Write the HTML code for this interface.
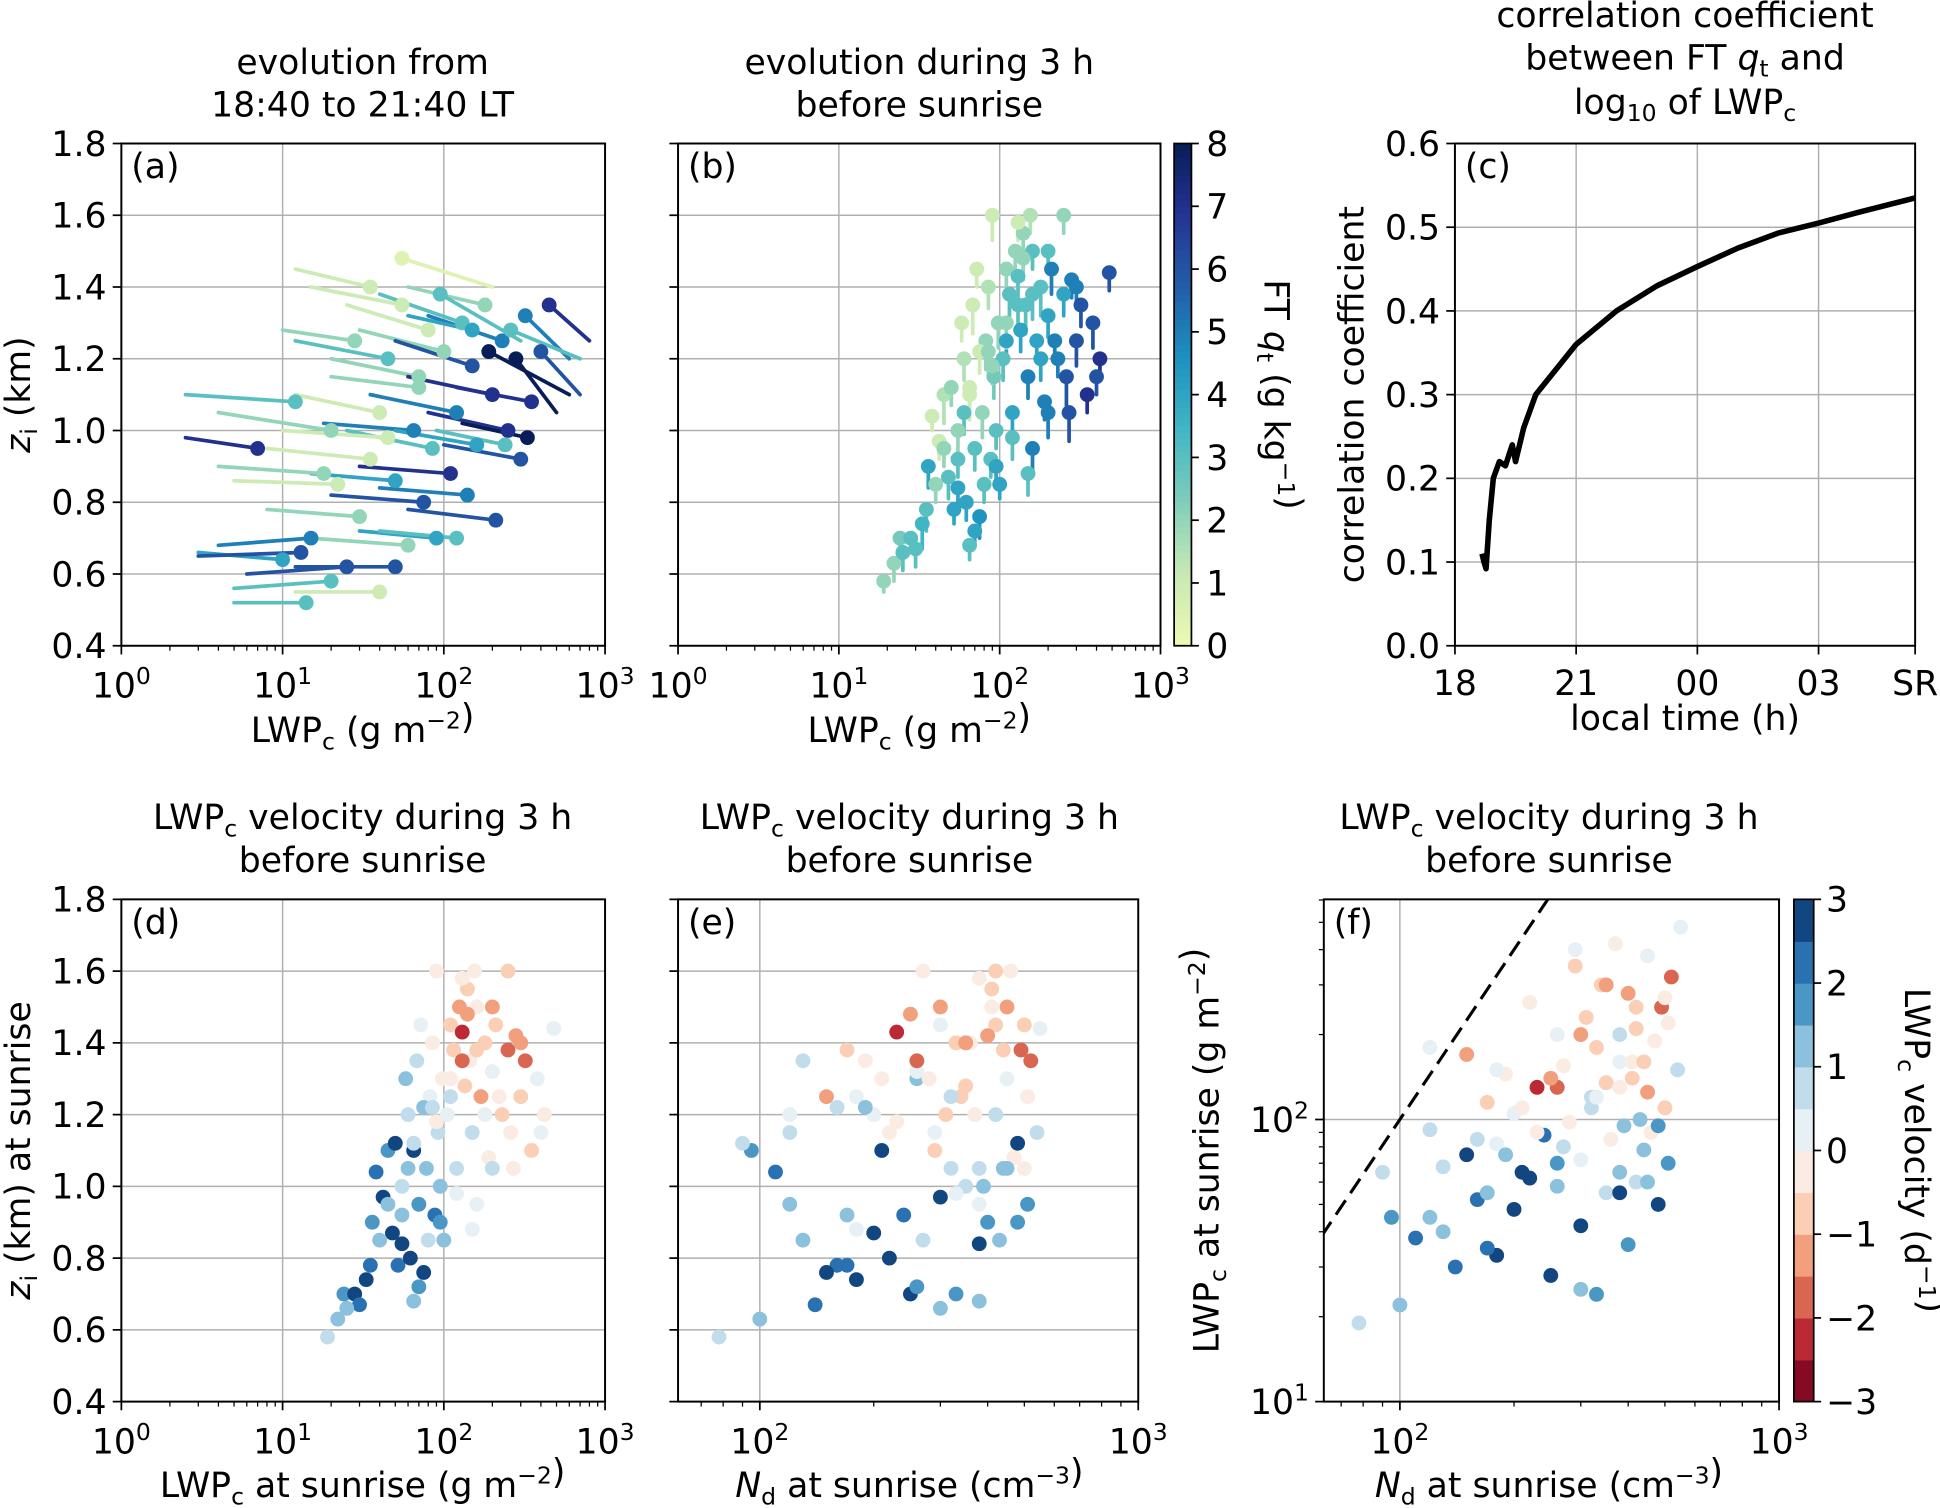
<!DOCTYPE html>
<html><head><meta charset="utf-8"><style>
html,body{margin:0;padding:0;background:#fff;}
svg{display:block;font-family:"DejaVu Sans","Liberation Sans",sans-serif;}
</style></head><body>
<svg id="fig" width="1940" height="1508" viewBox="0 0 1568 1219" xmlns="http://www.w3.org/2000/svg"></svg>
<script>
// ---------- Panel (a) data: tracks 18:40 -> 21:40 ----------
const aLwp  =[7,12,14,10,15,20,25,30,28,35,40,40,45,50,55,60,65,70,75,80,85,90,100,110,120,130,140,150,160,180,200,210,230,250,280,300,320,350,400,450,20,35,18,55,95,120,190,260,50,330,13,22,45,70,150,240];
const aZi   =[0.95,1.08,0.52,0.64,0.70,0.58,0.62,0.76,1.25,0.92,1.05,0.55,1.20,0.86,1.35,0.68,1.00,1.15,0.80,1.28,0.95,0.70,1.22,0.88,1.05,1.30,0.82,1.18,0.96,1.35,1.10,0.75,1.25,1.00,1.20,0.92,1.32,1.08,1.22,1.35,1.00,1.40,0.88,1.48,1.38,0.70,1.22,1.28,0.62,0.98,0.66,0.85,0.98,1.12,1.28,0.96];
const aLwp0 =[2.5,2.5,5,3,4,5,6,8,10,8,12,12,12,15,15,15,18,20,20,25,25,30,30,30,35,40,40,50,50,60,60,60,80,80,500,100,600,120,700,800,4,12,4,200,300,40,600,700,12,130,3,5,10,20,60,90];
const aZi0  =[0.98,1.10,0.52,0.66,0.68,0.56,0.60,0.78,1.28,0.95,1.10,0.55,1.25,0.88,1.40,0.70,1.02,1.20,0.82,1.35,1.00,0.72,1.28,0.90,1.10,1.38,0.84,1.25,1.00,1.40,1.15,0.78,1.32,1.05,1.05,0.96,1.20,1.12,1.10,1.25,1.05,1.45,0.90,1.40,1.25,0.72,1.10,1.20,0.62,1.02,0.65,0.86,1.00,1.15,1.32,1.00];
const aQt   =[7,3,3,4,5,3,6,2,2,1,1,1,3,4,1,2,5,2,6,1,3,4,2,7,5,3,5,6,4,2,7,6,5,7,8,6,5,7,6,7,2,1,2,0.5,3,3,8,3,6,8,6,1,1,2,4,3];

// ---------- Sunrise data (panels b, d, e, f) ----------
const sLwp=[19,22,24,28,30,33,36,38,42,45,48,50,52,55,58,60,62,65,68,70,72,75,78,80,82,85,88,90,92,95,98,100,105,110,115,120,125,130,135,140,145,150,155,160,170,180,190,200,210,230,250,260,280,300,320,350,380,420,480,150,40,65,110,55,130,200,90,75,270,160,25,35,45,55,65,70,85,95,110,120,140,160,180,200,220,300,400,250,60,130];
const sZi =[0.58,0.63,0.70,0.70,0.67,0.74,0.90,1.04,0.97,1.10,0.87,1.12,0.78,1.00,1.30,1.20,0.80,0.68,1.35,0.95,1.45,0.76,1.05,0.85,1.25,1.40,0.92,1.60,1.15,1.00,1.30,0.85,1.20,1.45,1.38,1.05,1.50,1.43,1.28,1.55,1.35,1.15,1.60,0.95,1.25,1.40,1.08,1.32,1.45,1.20,1.38,1.15,1.42,1.25,1.35,1.10,1.30,1.20,1.44,0.88,0.85,1.10,1.25,0.92,1.35,1.05,1.18,1.22,1.05,1.50,0.66,0.78,0.95,0.84,1.12,0.72,1.22,0.90,1.30,0.98,1.48,1.38,1.20,1.50,1.25,1.40,1.15,1.60,1.05,1.58];
const sNd =[78,100,330,250,140,180,400,110,300,95,200,480,160,350,260,420,220,380,130,510,300,150,440,270,180,360,240,460,120,390,280,430,200,500,170,320,450,230,350,410,190,540,270,380,150,330,470,260,420,310,490,220,400,340,520,290,450,370,550,180,130,210,320,170,260,380,230,190,500,410,300,170,120,380,90,260,160,480,210,330,250,440,120,300,510,350,290,420,450,380];
const sVel=[0.5,1.0,1.5,2.5,2.0,2.8,1.5,2.0,2.5,1.8,3.0,2.5,2.0,0.5,1.0,0.8,2.5,1.2,0.5,1.5,0.3,3.0,1.0,0.5,0.2,-0.3,2.0,-0.5,0.6,1.0,-0.2,1.2,0.4,-1.0,-0.8,0.8,-1.5,-2.5,-1.0,-0.6,-0.4,0.5,-0.3,0.3,-1.2,-0.9,-0.5,0.2,-1.0,-0.7,-2.0,-0.4,-1.2,-0.6,-1.8,-0.8,0.3,-0.5,0.4,0.2,1.2,2.6,0.7,1.4,-1.6,0.9,-0.2,1.1,-0.3,-0.4,1.2,2.2,1.0,2.6,0.6,1.6,0.8,1.8,-0.4,0.4,-1.2,-0.8,0.2,-1.5,-0.3,-1.4,0.4,-0.6,1.4,-0.5];
const sQt =[2,2,2.5,3,3,3.5,4,1,1,1.5,3,2,4,2,1,1.5,4,3,1,3,1,4.5,2,3,2,1.5,3,1,2.5,3,2,4,3,2,3,4,2,3,4,2,3,5,1.5,5,4,3,5,4,5,5,4,6,5,6,6,7,6,7,6,3,2,1,4,3,3,5,2,1,6,3,3,3,2,4,1,4,2,4,2,3,2,3,4,3,5,5,6,2,3,1];
const sDzi=[0.03,0.05,0.06,0.04,0.05,0.07,0.06,0.04,0.05,0.08,0.06,0.05,0.04,0.07,0.05,0.06,0.05,0.04,0.08,0.06,0.05,0.06,0.07,0.05,0.08,0.06,0.05,0.07,0.06,0.05,0.07,0.04,0.06,0.05,0.08,0.06,0.05,0.07,0.06,0.05,0.08,0.06,0.05,0.07,0.06,0.08,0.05,0.06,0.07,0.05,0.06,0.08,0.05,0.07,0.06,0.05,0.07,0.06,0.05,0.06,0.05,0.07,0.06,0.05,0.06,0.07,0.05,0.06,0.08,0.05,0.05,0.06,0.05,0.05,0.06,0.04,0.06,0.05,0.07,0.06,0.06,0.07,0.06,0.05,0.06,0.06,0.05,0.05,0.06,0.05];

// ---------- Panel (c) data ----------
const cTime=[0.67,0.72,0.77,0.85,0.95,1.1,1.25,1.35,1.42,1.5,1.7,2.0,2.5,3,4,5,6,7,8,9,10,11.39];
const cCorr=[0.11,0.10,0.092,0.15,0.20,0.22,0.215,0.23,0.24,0.22,0.26,0.30,0.33,0.36,0.40,0.43,0.453,0.475,0.493,0.505,0.518,0.535];
const cTickPos=[0,3,6,9,11.39];
const cTickLab=['18','21','00','03','SR'];
// dashed line in (f)
const fLineNd=[40,300];
const fLineExp=[2];

const NS='http://www.w3.org/2000/svg';
const svg=document.getElementById('fig');
const FS=28;
function mk(tag,attrs,parent){const e=document.createElementNS(NS,tag);for(const k in attrs)e.setAttribute(k,attrs[k]);(parent||svg).appendChild(e);return e;}
function logS(d0,d1,p0,p1){return v=>p0+(Math.log10(v)-Math.log10(d0))/(Math.log10(d1)-Math.log10(d0))*(p1-p0);}
function linS(d0,d1,p0,p1){return v=>p0+(v-d0)/(d1-d0)*(p1-p0);}
function txt(x,y,html,anchor,size,rot,parent){const t=mk('text',{x:x,y:y,'text-anchor':anchor||'middle','font-size':size||FS,fill:'#000'},parent);if(rot)t.setAttribute('transform','rotate('+rot+' '+x+' '+y+')');t.innerHTML=html;return t;}
const SUB=s=>'<tspan dy="6" font-size="19">'+s+'</tspan><tspan dy="-6"> </tspan>';
const SUBE=s=>'<tspan dy="6" font-size="19">'+s+'</tspan><tspan dy="-6"></tspan>';
const SUP=s=>'<tspan dy="-11" font-size="19">'+s+'</tspan><tspan dy="11"></tspan>';
function hex(h){return [parseInt(h.slice(1,3),16),parseInt(h.slice(3,5),16),parseInt(h.slice(5,7),16)];}
function interp(stops,t){t=Math.max(0,Math.min(1,t));const n=stops.length-1;const i=Math.min(n-1,Math.floor(t*n));const f=t*n-i;const a=hex(stops[i]),b=hex(stops[i+1]);return 'rgb('+a.map((v,k)=>Math.round(v+(b[k]-v)*f)).join(',')+')';}
const YGB=['#ffffd9','#edf8b1','#c7e9b4','#7fcdbb','#41b6c4','#1d91c0','#225ea8','#253494','#081d58'];
const RDBU=['#67001f','#b2182b','#d6604d','#f4a582','#fddbc7','#f7f7f7','#d1e5f0','#92c5de','#4393c3','#2166ac','#053061'];
const qtCol=q=>interp(YGB,0.12+0.88*q/8);
function velCol(v){const b=Math.max(0,Math.min(11,Math.floor((v+3)/0.5)));return interp(RDBU,(b+0.5)/12);}

function axes(name){
  const g=mk('g',{});
  
  
  return g;
}
function frame(g,X0,X1,Y0,Y1){mk('rect',{x:X0,y:Y0,width:X1-X0,height:Y1-Y0,fill:'none',stroke:'#000','stroke-width':1.6},g);}
function xLogTicks(g,xs,d0,d1,Y1,labels,grid,Y0){
  for(let e=Math.floor(Math.log10(d0));e<=Math.ceil(Math.log10(d1));e++){
    for(let m=1;m<10;m++){const v=m*Math.pow(10,e);if(v<d0*0.999||v>d1*1.001)continue;const x=xs(v);
      if(m===1){if(grid&&v>d0*1.01&&v<d1*0.99)mk('line',{x1:x,x2:x,y1:Y0,y2:Y1,stroke:'#b0b0b0','stroke-width':1.2},g);
        mk('line',{x1:x,x2:x,y1:Y1,y2:Y1+7,stroke:'#000','stroke-width':1.4},g);
        if(labels){const t=txt(x,Y1+42,'10'+SUP(e),'middle',FS,0,g);}}
      else mk('line',{x1:x,x2:x,y1:Y1,y2:Y1+4,stroke:'#000','stroke-width':1},g);}
  }
}
function yLinTicks(g,ys,vals,X0,X1,labels){
  vals.forEach(v=>{const y=ys(v);if(v>vals[0]&&v<vals[vals.length-1])mk('line',{x1:X0,x2:X1,y1:y,y2:y,stroke:'#b0b0b0','stroke-width':1.2},g);
    mk('line',{x1:X0-7,x2:X0,y1:y,y2:y,stroke:'#000','stroke-width':1.4},g);
    if(labels){const t=txt(X0-12,y+10,v.toFixed(1),'end',FS,0,g);}});
}
const ziTicks=[0.4,0.6,0.8,1.0,1.2,1.4,1.6,1.8];

// ===== Panel a =====
(function(){
  const X0=98,X1=489,Y0=116,Y1=522;
  const g=axes('panel-a');
  const xs=logS(1,1000,X0,X1), ys=linS(0.4,1.8,Y1,Y0);
  yLinTicks(g,ys,ziTicks,X0,X1,true);
  xLogTicks(g,xs,1,1000,Y1,true,true,Y0);
  aLwp.forEach((v,i)=>{
    const l=mk('line',{x1:xs(aLwp0[i]),y1:ys(aZi0[i]),x2:xs(v),y2:ys(aZi[i]),stroke:qtCol(aQt[i]),'stroke-width':3,'stroke-linecap':'round'},g);
    
    
  });
  aLwp.forEach((v,i)=>{
    const c=mk('circle',{cx:xs(v),cy:ys(aZi[i]),r:6,fill:qtCol(aQt[i])},g);
    
    
  });
  frame(g,X0,X1,Y0,Y1);
  txt(X0+8,Y0+28,'(a)','start',FS,0,g);
  txt(293,60,'evolution from','middle',FS,0,g);
  txt(293,94,'18:40 to 21:40 LT','middle',FS,0,g);
  txt(293,600,'LWP'+SUB('c')+'(g m'+SUP('−2')+')','middle',FS,0,g);
  txt(24,319,'<tspan font-style="italic">z</tspan>'+SUB('i')+'(km)','middle',FS,-90,g);
})();

// ===== Panel b =====
(function(){
  const X0=548,X1=938,Y0=116,Y1=522;
  const g=axes('panel-b');
  const xs=logS(1,1000,X0,X1), ys=linS(0.4,1.8,Y1,Y0);
  yLinTicks(g,ys,ziTicks,X0,X1,false);
  xLogTicks(g,xs,1,1000,Y1,true,true,Y0);
  sLwp.forEach((v,i)=>{
    const l=mk('line',{x1:xs(v),y1:ys(sZi[i]-sDzi[i]),x2:xs(v),y2:ys(sZi[i]),stroke:qtCol(sQt[i]),'stroke-width':3,'stroke-linecap':'round'},g);
    
    
  });
  sLwp.forEach((v,i)=>{
    const c=mk('circle',{cx:xs(v),cy:ys(sZi[i]),r:6,fill:qtCol(sQt[i])},g);
    
    
  });
  frame(g,X0,X1,Y0,Y1);
  txt(X0+8,Y0+28,'(b)','start',FS,0,g);
  txt(743,60,'evolution during 3 h','middle',FS,0,g);
  txt(743,94,'before sunrise','middle',FS,0,g);
  txt(743,600,'LWP'+SUB('c')+'(g m'+SUP('−2')+')','middle',FS,0,g);
  const cb=mk('g',{});
  
  
  const cX=949,cW=14,cs=linS(0,8,Y1,Y0);
  for(let k=0;k<80;k++){const q=k/10;mk('rect',{x:cX,y:cs(q+0.1),width:cW,height:(Y1-Y0)/80+0.6,fill:qtCol(q+0.05)},cb);}
  mk('rect',{x:cX,y:Y0,width:cW,height:Y1-Y0,fill:'none',stroke:'#000','stroke-width':1.4},cb);
  for(let q=0;q<=8;q++){const y=cs(q);mk('line',{x1:cX+cW,x2:cX+cW+6,y1:y,y2:y,stroke:'#000','stroke-width':1.4},cb);txt(cX+cW+12,y+10,String(q),'start',FS,0,cb);}
  txt(1022,319,'FT <tspan font-style="italic">q</tspan>'+SUB('t')+'(g kg'+SUP('−1')+')','middle',FS,90,cb);
})();

// ===== Panel c =====
(function(){
  const X0=1176,X1=1548,Y0=116,Y1=522;
  const g=axes('panel-c');
  const xs=linS(0,11.39,X0,X1), ys=linS(0,0.6,Y1,Y0);
  yLinTicks(g,ys,[0,0.1,0.2,0.3,0.4,0.5,0.6],X0,X1,true);
  cTickPos.forEach((t,i)=>{const x=xs(t);if(i>0&&i<cTickPos.length-1)mk('line',{x1:x,x2:x,y1:Y0,y2:Y1,stroke:'#b0b0b0','stroke-width':1.2},g);
    mk('line',{x1:x,x2:x,y1:Y1,y2:Y1+7,stroke:'#000','stroke-width':1.4},g);txt(x,Y1+40,cTickLab[i],'middle',FS,0,g);});
  const p=mk('polyline',{points:cTime.map((t,i)=>xs(t)+','+ys(cCorr[i])).join(' '),fill:'none',stroke:'#000','stroke-width':4.5,'stroke-linejoin':'round'},g);
  
  
  frame(g,X0,X1,Y0,Y1);
  txt(X0+8,Y0+28,'(c)','start',FS,0,g);
  txt(1362,22,'correlation coefficient','middle',FS,0,g);
  txt(1362,56,'between FT <tspan font-style="italic">q</tspan>'+SUB('t')+'and','middle',FS,0,g);
  txt(1362,92,'log'+SUB('10')+'of LWP'+SUBE('c'),'middle',FS,0,g);
  txt(1362,590,'local time (h)','middle',FS,0,g);
  txt(1102,319,'correlation coefficient','middle',FS,-90,g);
})();

// ===== Panel d =====
(function(){
  const X0=98,X1=489,Y0=727,Y1=1133;
  const g=axes('panel-d');
  const xs=logS(1,1000,X0,X1), ys=linS(0.4,1.8,Y1,Y0);
  yLinTicks(g,ys,ziTicks,X0,X1,true);
  xLogTicks(g,xs,1,1000,Y1,true,true,Y0);
  sLwp.forEach((v,i)=>{const c=mk('circle',{cx:xs(v),cy:ys(sZi[i]),r:6,fill:velCol(sVel[i])},g);
    
    });
  frame(g,X0,X1,Y0,Y1);
  txt(X0+8,Y0+28,'(d)','start',FS,0,g);
  txt(293,670,'LWP'+SUB('c')+'velocity during 3 h','middle',FS,0,g);
  txt(293,705,'before sunrise','middle',FS,0,g);
  txt(293,1210,'LWP'+SUB('c')+'at sunrise (g m'+SUP('−2')+')','middle',FS,0,g);
  txt(24,930,'<tspan font-style="italic">z</tspan>'+SUB('i')+'(km) at sunrise','middle',FS,-90,g);
})();

// ===== Panel e =====
(function(){
  const X0=548,X1=920,Y0=727,Y1=1133;
  const g=axes('panel-e');
  const xs=logS(60.8,1000,X0,X1), ys=linS(0.4,1.8,Y1,Y0);
  yLinTicks(g,ys,ziTicks,X0,X1,false);
  xLogTicks(g,xs,60.8,1000,Y1,true,true,Y0);
  sNd.forEach((v,i)=>{const c=mk('circle',{cx:xs(v),cy:ys(sZi[i]),r:6,fill:velCol(sVel[i])},g);
    
    });
  frame(g,X0,X1,Y0,Y1);
  txt(X0+8,Y0+28,'(e)','start',FS,0,g);
  txt(735,670,'LWP'+SUB('c')+'velocity during 3 h','middle',FS,0,g);
  txt(735,705,'before sunrise','middle',FS,0,g);
  txt(735,1210,'<tspan font-style="italic">N</tspan>'+SUB('d')+'at sunrise (cm'+SUP('−3')+')','middle',FS,0,g);
})();

// ===== Panel f =====
(function(){
  const X0=1070,X1=1438,Y0=727,Y1=1133;
  const g=axes('panel-f');
  const xs=logS(63,1000,X0,X1), ys=logS(10,603,Y1,Y0);
  xLogTicks(g,xs,63,1000,Y1,true,true,Y0);
  for(let e=1;e<=2;e++)for(let m=1;m<10;m++){const v=m*Math.pow(10,e);if(v>603)continue;const y=ys(v);
    if(m===1){if(e===2)mk('line',{x1:X0,x2:X1,y1:y,y2:y,stroke:'#b0b0b0','stroke-width':1.2},g);
      mk('line',{x1:X0-7,x2:X0,y1:y,y2:y,stroke:'#000','stroke-width':1.4},g);txt(X0-12,y+10,'10'+SUP(e),'end',FS,0,g);}
    else mk('line',{x1:X0-4,x2:X0,y1:y,y2:y,stroke:'#000','stroke-width':1},g);}
  const cp=mk('clipPath',{id:'clipf'},g);mk('rect',{x:X0,y:Y0,width:X1-X0,height:Y1-Y0},cp);
  const dl=mk('line',{x1:xs(fLineNd[0]),y1:ys(100*Math.pow(fLineNd[0]/100,fLineExp[0])),x2:xs(fLineNd[1]),y2:ys(100*Math.pow(fLineNd[1]/100,fLineExp[0])),stroke:'#000','stroke-width':2.5,'stroke-dasharray':'14 7','clip-path':'url(#clipf)'},g);
  
  
  sNd.forEach((v,i)=>{const c=mk('circle',{cx:xs(v),cy:ys(sLwp[i]),r:6,fill:velCol(sVel[i]),'clip-path':'url(#clipf)'},g);
    
    });
  frame(g,X0,X1,Y0,Y1);
  txt(X0+8,Y0+28,'(f)','start',FS,0,g);
  txt(1252,670,'LWP'+SUB('c')+'velocity during 3 h','middle',FS,0,g);
  txt(1252,705,'before sunrise','middle',FS,0,g);
  txt(1252,1210,'<tspan font-style="italic">N</tspan>'+SUB('d')+'at sunrise (cm'+SUP('−3')+')','middle',FS,0,g);
  txt(985,930,'LWP'+SUB('c')+'at sunrise (g m'+SUP('−2')+')','middle',FS,-90,g);
  const cb=mk('g',{});
  
  
  const cX=1450,cW=16,cs=linS(-3,3,Y1,Y0);
  for(let b=0;b<12;b++){const v=-3+b*0.5;mk('rect',{x:cX,y:cs(v+0.5),width:cW,height:cs(v)-cs(v+0.5)+0.5,fill:velCol(v+0.25)},cb);}
  mk('rect',{x:cX,y:Y0,width:cW,height:Y1-Y0,fill:'none',stroke:'#000','stroke-width':1.4},cb);
  for(let v=-3;v<=3;v++){const y=cs(v);mk('line',{x1:cX+cW,x2:cX+cW+6,y1:y,y2:y,stroke:'#000','stroke-width':1.4},cb);txt(cX+cW+10,y+10,v<0?'−'+(-v):String(v),'start',FS,0,cb);}
  txt(1540,930,'LWP'+SUB('c')+'velocity (d'+SUP('−1')+')','middle',FS,90,cb);
})();
</script>
</body></html>
